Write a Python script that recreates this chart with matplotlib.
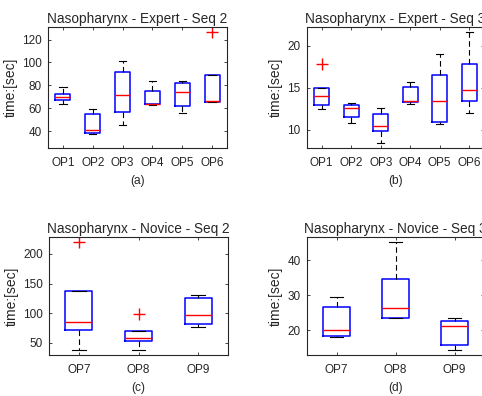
import matplotlib
matplotlib.use('Agg')
import matplotlib.pyplot as plt

plt.rcParams['font.family'] = ['Liberation Sans', 'DejaVu Sans']

W, H = 482, 396
DARK = '#262626'

# box stats: whisker low, q1, median, q3, whisker high, fliers
a_labels = ['OP1', 'OP2', 'OP3', 'OP4', 'OP5', 'OP6']
a_lo = [64.0, 37.4, 45.2, 62.6, 55.7, 65.2]
a_q1 = [67.2, 38.3, 56.5, 63.8, 62.0, 65.5]
a_med = [69.6, 41.2, 71.3, 64.1, 74.5, 66.7]
a_q3 = [72.2, 54.5, 91.3, 75.4, 82.0, 89.3]
a_hi = [78.3, 59.7, 101.7, 83.8, 83.8, 89.3]
a_fl = [[], [], [], [], [], [126.4]]

b_labels = ['OP1', 'OP2', 'OP3', 'OP4', 'OP5', 'OP6']
b_lo = [12.53, 10.83, 8.42, 13.12, 10.67, 12.0]
b_q1 = [13.0, 11.5, 9.84, 13.36, 10.87, 13.4]
b_med = [14.03, 12.57, 10.51, 13.44, 13.48, 14.70]
b_q3 = [14.94, 12.92, 11.86, 15.14, 16.52, 17.79]
b_hi = [14.94, 13.24, 12.65, 15.73, 19.0, 21.62]
b_fl = [[17.8], [], [], [], [], []]

c_labels = ['OP7', 'OP8', 'OP9']
c_lo = [37.7, 38.2, 77.1]
c_q1 = [72.6, 53.4, 82.2]
c_med = [85.6, 59.1, 96.8]
c_q3 = [136.9, 69.8, 125.0]
c_hi = [136.9, 69.8, 130.7]
c_fl = [[219.7], [98.0], []]

d_labels = ['OP7', 'OP8', 'OP9']
d_lo = [17.9, 23.4, 14.3]
d_q1 = [18.3, 23.4, 15.8]
d_med = [20.0, 26.3, 21.3]
d_q3 = [26.6, 34.6, 22.7]
d_hi = [29.5, 45.3, 23.5]
d_fl = [[], [], []]

fig = plt.figure(figsize=(W / 100, H / 100), dpi=100)


def panel(box_px, labels, lo, q1, med, q3, hi, fl, ylim, yticks, title, tag, width):
    l, t, r, b = box_px
    ax = fig.add_axes([l / W, 1 - b / H, (r - l) / W, (b - t) / H])
    stats = []
    for i in range(len(labels)):
        stats.append(dict(whislo=lo[i], q1=q1[i], med=med[i], q3=q3[i],
                          whishi=hi[i], fliers=fl[i], label=labels[i]))
    ax.bxp(stats, positions=range(1, len(labels) + 1), widths=width,
           capwidths=width / 2, showfliers=True,
           boxprops=dict(color='#0000ff', linewidth=1.1),
           medianprops=dict(color='#ff0000', linewidth=1.0),
           whiskerprops=dict(color='black', linewidth=0.8, linestyle=(0, (5, 3))),
           capprops=dict(color='black', linewidth=0.8),
           flierprops=dict(marker='+', markeredgecolor='#ff0000',
                           markersize=8, markeredgewidth=1.0, linestyle='none'))
    ax.set_xlim(0.5, len(labels) + 0.5)
    ax.set_ylim(*ylim)
    ax.set_yticks(yticks)
    ax.set_title(title, fontsize=9.8, color=DARK, pad=3)
    ax.set_ylabel('time:[sec]', fontsize=10, color=DARK, labelpad=3)
    ax.set_xlabel(tag, fontsize=8.6, color=DARK, labelpad=4)
    ax.tick_params(direction='in', length=2.5, width=0.6, top=True, right=True,
                   labelsize=8.5, labelcolor=DARK, color=DARK)
    ax.tick_params(axis='y', pad=4.5)
    ax.tick_params(axis='x', pad=6.5)
    for s in ax.spines.values():
        s.set_color(DARK)
        s.set_linewidth(0.8)
    return ax


panel((48, 27, 227, 148), a_labels, a_lo, a_q1, a_med, a_q3, a_hi, a_fl,
      (25.2, 131), [40, 60, 80, 100, 120], 'Nasopharynx - Expert - Seq 2', '(a)', 0.5)
panel((307, 27, 484, 148), b_labels, b_lo, b_q1, b_med, b_q3, b_hi, b_fl,
      (7.83, 22.25), [10, 15, 20], 'Nasopharynx - Expert - Seq 3', '(b)', 0.5)
panel((49, 237, 228, 355), c_labels, c_lo, c_q1, c_med, c_q3, c_hi, c_fl,
      (29.8, 228.2), [50, 100, 150, 200], 'Nasopharynx - Novice - Seq 2', '(c)', 0.45)
panel((307, 237, 484, 355), d_labels, d_lo, d_q1, d_med, d_q3, d_hi, d_fl,
      (12.9, 46.6), [20, 30, 40], 'Nasopharynx - Novice - Seq 3', '(d)', 0.45)

fig.savefig('out.png', dpi=100)
